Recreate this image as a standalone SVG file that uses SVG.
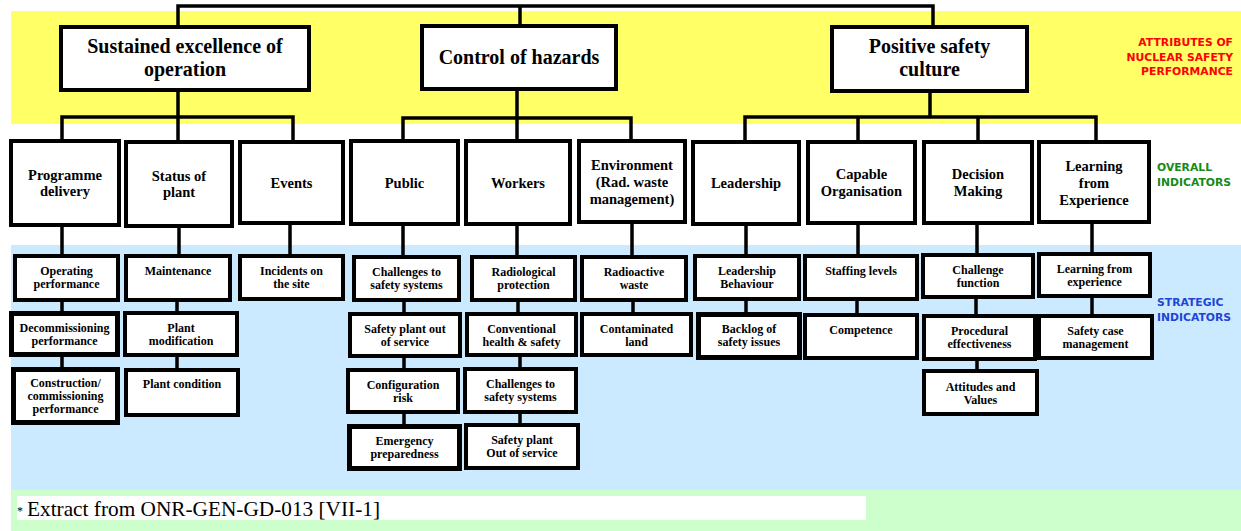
<svg xmlns="http://www.w3.org/2000/svg" width="1241" height="531" viewBox="0 0 1241 531">
  <style>
    .box { fill: #ffffff; stroke: #000000; stroke-width: 4; }
    .box.thick { stroke-width: 5; }
    .conn { fill: none; stroke: #000000; stroke-width: 3.5; stroke-linejoin: miter; }
    text { font-family: "Liberation Serif", "Times New Roman", serif; font-weight: bold; fill: #000000; text-anchor: middle; }
    .t1 { font-size: 20px; }
    .t2 { font-size: 14.5px; }
    .t3 { font-size: 12px; }
    .lbl { font-family: "DejaVu Sans", "Liberation Sans", sans-serif; font-size: 10.8px; font-weight: bold; }
    .red { fill: #ff0000; text-anchor: end; }
    .green { fill: #168a16; text-anchor: start; }
    .blue { fill: #1f45d6; text-anchor: start; }
    .foot { font-weight: normal; text-anchor: start; }
  </style>

  <!-- background bands -->
  <g id="bands">
    <rect x="11" y="11" width="1230" height="113" fill="#ffff66"/>
    <rect x="11" y="245" width="1230" height="245" fill="#cceaff"/>
    <rect x="11" y="490" width="1230" height="41" fill="#ccffcc"/>
  </g>

  <!-- band labels -->
  <g id="labels">
    <text class="lbl red" x="1233" y="46">ATTRIBUTES OF</text>
    <text class="lbl red" x="1233" y="61">NUCLEAR SAFETY</text>
    <text class="lbl red" x="1233" y="75">PERFORMANCE</text>
    <text class="lbl green" x="1157" y="171">OVERALL</text>
    <text class="lbl green" x="1157" y="186">INDICATORS</text>
    <text class="lbl blue" x="1157" y="306">STRATEGIC</text>
    <text class="lbl blue" x="1157" y="321">INDICATORS</text>
  </g>

  <!-- connectors -->
  <g id="connectors" class="conn">
    <path d="M178,25 V6 H933 V25 M520,6 V24"/>
    <path d="M178,92 V140 M62,139 V117 H293 V140"/>
    <path d="M517,91 V139 M403,139 V118 H631 V139"/>
    <path d="M930,93 V117 M745,140 V117 H1096 V140 M858,117 V140 M978,117 V140"/>
    <path d="M62,227 V254 M179,228 V254 M290,225 V254 M403,226 V255 M517,226 V255 M632,224 V255 M746,226 V254 M858,225 V254 M977,225 V253 M1092,224 V252"/>
    <path d="M62,302 V311 M62,357 V367"/>
    <path d="M177,302 V311 M177,357 V368"/>
    <path d="M404,302 V312 M404,358 V368 M404,414 V424"/>
    <path d="M518,302 V312 M520,357 V367 M520,414 V423"/>
    <path d="M633,302 V312"/>
    <path d="M746,301 V312"/>
    <path d="M857,301 V313"/>
    <path d="M976,299 V314 M977,361 V369"/>
    <path d="M1092,298 V314"/>
  </g>

  <!-- attributes -->
  <g id="sustained-excellence">
    <rect class="box" x="61" y="27" width="248" height="63"/>
    <text class="t1" x="185" y="53">Sustained excellence of</text>
    <text class="t1" x="185" y="76">operation</text>
  </g>
  <g id="control-of-hazards">
    <rect class="box" x="422" y="26" width="194" height="63"/>
    <text class="t1" x="519" y="64">Control of hazards</text>
  </g>
  <g id="positive-safety-culture">
    <rect class="box" x="832" y="27" width="195" height="64"/>
    <text class="t1" x="929.5" y="53">Positive safety</text>
    <text class="t1" x="929.5" y="76">culture</text>
  </g>

  <!-- overall indicators -->
  <g id="programme-delivery">
    <rect class="box" x="11" y="141" width="108" height="84"/>
    <text class="t2" x="65" y="180">Programme</text>
    <text class="t2" x="65" y="196">delivery</text>
  </g>
  <g id="status-of-plant">
    <rect class="box" x="126" y="142" width="106" height="84"/>
    <text class="t2" x="179" y="181">Status of</text>
    <text class="t2" x="179" y="197">plant</text>
  </g>
  <g id="events">
    <rect class="box" x="240" y="142" width="103" height="81"/>
    <text class="t2" x="291.5" y="188">Events</text>
  </g>
  <g id="public">
    <rect class="box" x="351" y="141" width="107" height="83"/>
    <text class="t2" x="404.5" y="188">Public</text>
  </g>
  <g id="workers">
    <rect class="box" x="466" y="141" width="104" height="83"/>
    <text class="t2" x="518" y="188">Workers</text>
  </g>
  <g id="environment">
    <rect class="box" x="579" y="141" width="106" height="81"/>
    <text class="t2" x="632" y="170">Environment</text>
    <text class="t2" x="632" y="187">(Rad. waste</text>
    <text class="t2" x="632" y="204">management)</text>
  </g>
  <g id="leadership">
    <rect class="box" x="693" y="142" width="106" height="82"/>
    <text class="t2" x="746" y="188">Leadership</text>
  </g>
  <g id="capable-organisation">
    <rect class="box" x="808" y="142" width="107" height="81"/>
    <text class="t2" x="861.5" y="179">Capable</text>
    <text class="t2" x="861.5" y="196">Organisation</text>
  </g>
  <g id="decision-making">
    <rect class="box" x="924" y="142" width="108" height="81"/>
    <text class="t2" x="978" y="179">Decision</text>
    <text class="t2" x="978" y="196">Making</text>
  </g>
  <g id="learning-from-experience">
    <rect class="box" x="1039" y="142" width="110" height="80"/>
    <text class="t2" x="1094" y="171">Learning</text>
    <text class="t2" x="1094" y="188">from</text>
    <text class="t2" x="1094" y="205">Experience</text>
  </g>

  <!-- strategic indicators -->
  <g id="operating-performance">
    <rect class="box" x="15" y="256" width="103" height="44"/>
    <text class="t3" x="66.5" y="275">Operating</text>
    <text class="t3" x="66.5" y="288">performance</text>
  </g>
  <g id="decommissioning-performance">
    <rect class="box thick" x="11.5" y="313.5" width="106" height="41"/>
    <text class="t3" x="64.5" y="332">Decommissioning</text>
    <text class="t3" x="64.5" y="345">performance</text>
  </g>
  <g id="construction-performance">
    <rect class="box thick" x="13.5" y="369.5" width="104" height="53"/>
    <text class="t3" x="65.5" y="387">Construction/</text>
    <text class="t3" x="65.5" y="400">commissioning</text>
    <text class="t3" x="65.5" y="413">performance</text>
  </g>
  <g id="maintenance">
    <rect class="box" x="126" y="256" width="104" height="44"/>
    <text class="t3" x="178" y="275">Maintenance</text>
  </g>
  <g id="plant-modification">
    <rect class="box" x="125" y="313" width="112" height="42"/>
    <text class="t3" x="181" y="332">Plant</text>
    <text class="t3" x="181" y="345">modification</text>
  </g>
  <g id="plant-condition">
    <rect class="box" x="126" y="370" width="112" height="45"/>
    <text class="t3" x="182" y="388">Plant condition</text>
  </g>
  <g id="incidents-on-site">
    <rect class="box" x="240" y="256" width="103" height="43"/>
    <text class="t3" x="291.5" y="275">Incidents on</text>
    <text class="t3" x="291.5" y="288">the site</text>
  </g>
  <g id="public-challenges">
    <rect class="box" x="354" y="257" width="105" height="43"/>
    <text class="t3" x="406.5" y="276">Challenges to</text>
    <text class="t3" x="406.5" y="289">safety systems</text>
  </g>
  <g id="public-safety-plant">
    <rect class="box" x="350" y="314" width="110" height="42"/>
    <text class="t3" x="405" y="333">Safety plant out</text>
    <text class="t3" x="405" y="346">of service</text>
  </g>
  <g id="configuration-risk">
    <rect class="box" x="348" y="370" width="110" height="42"/>
    <text class="t3" x="403" y="389">Configuration</text>
    <text class="t3" x="403" y="402">risk</text>
  </g>
  <g id="emergency-preparedness">
    <rect class="box thick" x="349.5" y="426.5" width="110" height="42"/>
    <text class="t3" x="404.5" y="445">Emergency</text>
    <text class="t3" x="404.5" y="458">preparedness</text>
  </g>
  <g id="radiological-protection">
    <rect class="box" x="472" y="257" width="103" height="43"/>
    <text class="t3" x="523.5" y="276">Radiological</text>
    <text class="t3" x="523.5" y="289">protection</text>
  </g>
  <g id="conventional-safety">
    <rect class="box" x="467" y="314" width="109" height="41"/>
    <text class="t3" x="521.5" y="333">Conventional</text>
    <text class="t3" x="521.5" y="346">health &amp; safety</text>
  </g>
  <g id="workers-challenges">
    <rect class="box" x="465" y="369" width="111" height="43"/>
    <text class="t3" x="520.5" y="388">Challenges to</text>
    <text class="t3" x="520.5" y="401">safety systems</text>
  </g>
  <g id="workers-safety-plant">
    <rect class="box" x="466" y="425" width="112" height="43"/>
    <text class="t3" x="522" y="444">Safety plant</text>
    <text class="t3" x="522" y="457">Out of service</text>
  </g>
  <g id="radioactive-waste">
    <rect class="box" x="582" y="257" width="104" height="43"/>
    <text class="t3" x="634" y="276">Radioactive</text>
    <text class="t3" x="634" y="289">waste</text>
  </g>
  <g id="contaminated-land">
    <rect class="box" x="582" y="314" width="109" height="41"/>
    <text class="t3" x="636.5" y="333">Contaminated</text>
    <text class="t3" x="636.5" y="346">land</text>
  </g>
  <g id="leadership-behaviour">
    <rect class="box" x="695" y="256" width="104" height="43"/>
    <text class="t3" x="747" y="275">Leadership</text>
    <text class="t3" x="747" y="288">Behaviour</text>
  </g>
  <g id="backlog-of-safety-issues">
    <rect class="box thick" x="698.5" y="314.5" width="101" height="43"/>
    <text class="t3" x="749" y="333">Backlog of</text>
    <text class="t3" x="749" y="346">safety issues</text>
  </g>
  <g id="staffing-levels">
    <rect class="box" x="805" y="256" width="112" height="43"/>
    <text class="t3" x="861" y="275">Staffing levels</text>
  </g>
  <g id="competence">
    <rect class="box" x="805" y="315" width="112" height="43"/>
    <text class="t3" x="861" y="334">Competence</text>
  </g>
  <g id="challenge-function">
    <rect class="box" x="923" y="255" width="110" height="42"/>
    <text class="t3" x="978" y="274">Challenge</text>
    <text class="t3" x="978" y="287">function</text>
  </g>
  <g id="procedural-effectiveness">
    <rect class="box" x="924" y="316" width="111" height="43"/>
    <text class="t3" x="979.5" y="335">Procedural</text>
    <text class="t3" x="979.5" y="348">effectiveness</text>
  </g>
  <g id="attitudes-and-values">
    <rect class="box" x="924" y="371" width="113" height="43"/>
    <text class="t3" x="980.5" y="391">Attitudes and</text>
    <text class="t3" x="980.5" y="404">Values</text>
  </g>
  <g id="learning-from-experience-strategic">
    <rect class="box" x="1039" y="254" width="111" height="42"/>
    <text class="t3" x="1094.5" y="273">Learning from</text>
    <text class="t3" x="1094.5" y="286">experience</text>
  </g>
  <g id="safety-case-management">
    <rect class="box" x="1039" y="316" width="113" height="42"/>
    <text class="t3" x="1095.5" y="335">Safety case</text>
    <text class="t3" x="1095.5" y="348">management</text>
  </g>

  <!-- footnote -->
  <g id="footnote">
    <rect x="17" y="496" width="849" height="24" fill="#ffffff"/>
    <text class="foot" x="17" y="515" font-size="12">*</text>
    <text class="foot" x="27" y="516" font-size="21" textLength="353" lengthAdjust="spacingAndGlyphs">Extract from ONR-GEN-GD-013 [VII-1]</text>
  </g>
</svg>
